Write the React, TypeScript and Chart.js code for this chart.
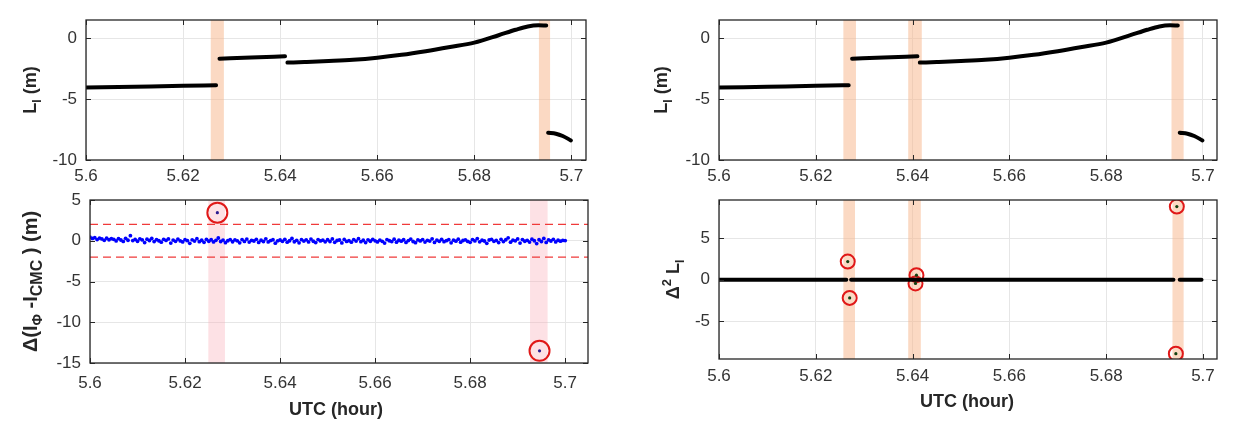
import React, { useEffect, useRef } from "react";
import { Chart, registerables } from "chart.js";

Chart.register(...registerables);

// ---------------- DATA ----------------
const X_TICKS = [5.6, 5.62, 5.64, 5.66, 5.68, 5.7];
const LI_Y_TICKS = [-10, -5, 0];
const DIFF_Y_TICKS = [-15, -10, -5, 0, 5];
const D2_Y_TICKS = [-5, 0, 5];

// L_I (m), four arcs separated by cycle slips
const LI_SEG1_X = [5.6, 5.61, 5.62, 5.6268];
const LI_SEG1_Y = [-4.05, -3.98, -3.91, -3.86];
const LI_SEG2_X = [5.6275, 5.634, 5.641];
const LI_SEG2_Y = [-1.68, -1.58, -1.48];
const LI_SEG3_X = [5.6415, 5.645, 5.65, 5.655, 5.66, 5.665, 5.67, 5.675, 5.68, 5.685, 5.6885, 5.691, 5.6932, 5.6948];
const LI_SEG3_Y = [-2.0, -1.95, -1.87, -1.77, -1.6, -1.36, -1.06, -0.72, -0.36, 0.25, 0.7, 0.97, 1.06, 1.05];
const LI_SEG4_X = [5.6952, 5.6968, 5.6982, 5.6999];
const LI_SEG4_Y = [-7.76, -7.84, -8.03, -8.39];

// Δ(I_Φ - I_CMC) (m): epochs start at DIFF_T0, sampled every DIFF_DT hour
const DIFF_T0 = 5.6;
const DIFF_DT = 0.0005;
const DIFF_VALUES = [
  0.45, 0.28, 0.38, 0.15, 0.33, 0.22, 0.05, 0.31, 0.12, 0.26,
  0.18, -0.02, 0.27, 0.09, -0.08, 0.30, 0.06, 0.62, 0.02, 0.16,
  -0.06, 0.24, 0.10, -0.22, 0.19, 0.03, 0.29, -0.10, 0.14, 0.00,
  -0.18, 0.17, 0.04, 0.23, -0.28, 0.08, -0.07, 0.21, -0.02, -0.14,
  0.13, 0.01, -0.31, 0.11, -0.04, 0.26, -0.11, 0.06, -0.19, 0.18,
  -0.06, 0.12, -0.15, 0.05, 0.34, -0.09, 0.08, -0.24, 0.00, 0.15,
  -0.12, 0.10, -0.01, -0.26, 0.14, -0.08, 0.20, -0.16, 0.04, -0.03,
  0.17, -0.21, 0.06, -0.09, 0.24, -0.14, 0.02, 0.12, -0.30, -0.01,
  0.09, -0.07, 0.18, -0.18, 0.00, 0.29, -0.12, 0.05, -0.25, 0.13,
  -0.04, 0.11, -0.15, 0.21, -0.06, -0.22, 0.15, -0.02, 0.07, -0.13,
  0.12, -0.09, 0.23, -0.19, 0.03, 0.09, -0.27, 0.16, -0.08, 0.01,
  -0.17, 0.14, -0.04, 0.25, -0.11, 0.06, -0.23, 0.11, -0.06, 0.18,
  -0.01, -0.14, 0.08, -0.07, -0.29, 0.15, 0.00, -0.10, 0.19, -0.18,
  0.06, -0.05, 0.12, -0.20, 0.02, 0.21, -0.09, -0.24, 0.10, -0.02,
  0.15, -0.16, 0.05, -0.04, 0.24, -0.21, 0.08, -0.07, 0.17, -0.11,
  0.01, 0.13, -0.26, 0.07, -0.05, 0.19, -0.17, 0.03, 0.11, -0.08,
  -0.19, 0.14, -0.02, 0.27, -0.13, 0.06, -0.03, -0.32, 0.09, 0.18,
  -0.07, 0.04, -0.23, 0.17, -0.10, 0.12, 0.36, -0.18, 0.07, -0.01,
  0.22, -0.28, 0.14, -0.06, 0.05, -0.16, 0.19, 0.00, -0.35, 0.12,
  -0.09, 0.28, -0.20, 0.10, -0.03, 0.17, -0.14, 0.06, -0.05, 0.04,
  0.02,
];
const DIFF_OUTLIER_X = [5.6268, 5.6946];
const DIFF_OUTLIER_Y = [3.45, -13.5];
const DIFF_THRESHOLD = 2;

// Δ² L_I
const D2_SEG1_X = [5.6, 5.6263];
const D2_SEG1_Y = [0, 0];
const D2_SEG2_X = [5.6273, 5.6939];
const D2_SEG2_Y = [0, 0];
const D2_SEG3_X = [5.6952, 5.6997];
const D2_SEG3_Y = [0, 0];
const D2_OUTLIER_X = [5.6266, 5.627, 5.6408, 5.6406, 5.6946, 5.6944];
const D2_OUTLIER_Y = [2.2, -2.2, 0.55, -0.45, 8.85, -8.95];

// flagged intervals
const LI_BANDS_LEFT = [[5.6257, 5.6284], [5.6933, 5.6956]];
const DIFF_BANDS = [[5.6249, 5.6284], [5.6926, 5.6963]];
const LI_BANDS_RIGHT = [[5.6257, 5.6283], [5.6391, 5.6419], [5.6935, 5.696]];
const D2_BANDS = [[5.6257, 5.6281], [5.6391, 5.6417], [5.6937, 5.696]];

// ---------------- STYLE / LAYOUT ----------------
const PAGE_W = 1243;
const PAGE_H = 422;
const FONT = '"Liberation Sans", Arial, Helvetica, sans-serif';
const AXIS_COLOR = "#262626";
const TICK_COLOR = "#333333";
const GRID_COLOR = "#e6e6e6";
const ORANGE_BAND = "rgba(248, 180, 135, 0.5)";
const PINK_BAND = "rgba(250, 170, 180, 0.35)";
const YW = 50;
const XH = 30;

type Run = { t: string; size: number; shift?: number };

const pts = (xs: number[], ys: number[]) => xs.map((x, i) => ({ x, y: ys[i] }));

function lineDs(xs: number[], ys: number[]) {
  return {
    data: pts(xs, ys),
    showLine: true,
    borderColor: "#000",
    borderWidth: 4,
    pointRadius: 0,
    cubicInterpolationMode: "monotone",
    borderCapStyle: "round",
  };
}

function drawRuns(ctx: CanvasRenderingContext2D, runs: Run[], cx: number, cy: number, rotate: boolean, mainSize: number) {
  ctx.save();
  ctx.translate(cx, cy);
  if (rotate) ctx.rotate(-Math.PI / 2);
  ctx.fillStyle = AXIS_COLOR;
  ctx.textAlign = "left";
  ctx.textBaseline = "alphabetic";
  const widths = runs.map((r) => {
    ctx.font = `bold ${r.size}px ${FONT}`;
    return ctx.measureText(r.t).width;
  });
  const total = widths.reduce((a, b) => a + b, 0);
  let x = -total / 2;
  const base = mainSize * 0.36;
  runs.forEach((r, i) => {
    ctx.font = `bold ${r.size}px ${FONT}`;
    ctx.fillText(r.t, x, base + (r.shift || 0));
    x += widths[i];
  });
  ctx.restore();
}

function makePanelPlugin(spec: any) {
  return {
    id: "panel_" + spec.key,
    beforeDatasetsDraw(chart: any) {
      const { ctx, chartArea, scales } = chart;
      const x = scales.x;
      ctx.save();
      ctx.beginPath();
      ctx.rect(chartArea.left, chartArea.top, chartArea.right - chartArea.left, chartArea.bottom - chartArea.top);
      ctx.clip();
      ctx.fillStyle = spec.bandColor;
      spec.bands.forEach(([a, b]: number[]) => {
        const xa = x.getPixelForValue(a);
        const xb = x.getPixelForValue(b);
        ctx.fillRect(xa, chartArea.top, xb - xa, chartArea.bottom - chartArea.top);
      });
      ctx.restore();
    },
    afterDraw(chart: any) {
      const { ctx, chartArea, scales } = chart;
      const { left, top, right, bottom } = chartArea;
      const x = scales.x;
      const y = scales.y;
      ctx.save();
      ctx.strokeStyle = AXIS_COLOR;
      ctx.lineWidth = 1.3;
      ctx.strokeRect(left, top, right - left, bottom - top);
      ctx.lineWidth = 1;
      ctx.beginPath();
      X_TICKS.forEach((v) => {
        const px = Math.round(x.getPixelForValue(v)) + 0.5;
        ctx.moveTo(px, bottom);
        ctx.lineTo(px, bottom - 5);
        ctx.moveTo(px, top);
        ctx.lineTo(px, top + 5);
      });
      spec.yTicks.forEach((v: number) => {
        const py = Math.round(y.getPixelForValue(v)) + 0.5;
        ctx.moveTo(left, py);
        ctx.lineTo(left + 5, py);
        ctx.moveTo(right, py);
        ctx.lineTo(right - 5, py);
      });
      ctx.stroke();
      ctx.restore();

      drawRuns(ctx, spec.yTitle, spec.yTitleX, (top + bottom) / 2, true, spec.yTitleSize);
      if (spec.xTitle) {
        drawRuns(ctx, [{ t: "UTC (hour)", size: 18 }], spec.xTitleX, spec.xTitleY - 18 * 0.36, false, 18);
      }
    },
  };
}

function makeConfig(spec: any) {
  const a = spec.area;
  const tickFont = { family: FONT, size: 17 };
  return {
    type: "scatter",
    data: { datasets: spec.datasets },
    options: {
      responsive: false,
      animation: false,
      events: [],
      devicePixelRatio: 1,
      layout: {
        padding: { left: a.l - YW, top: a.t, right: PAGE_W - a.r, bottom: PAGE_H - a.b - XH },
      },
      plugins: { legend: { display: false }, tooltip: { enabled: false } },
      scales: {
        x: {
          type: "linear",
          min: 5.6,
          max: spec.xMax,
          afterFit: (s: any) => { s.height = XH; },
          afterBuildTicks: (s: any) => { s.ticks = X_TICKS.map((v) => ({ value: v })); },
          ticks: { padding: spec.xPad, font: tickFont, color: TICK_COLOR, maxRotation: 0, callback: (v: any) => String(v) },
          grid: { color: GRID_COLOR, drawTicks: false, lineWidth: 1 },
          border: { display: false },
        },
        y: {
          type: "linear",
          min: spec.yMin,
          max: spec.yMax,
          afterFit: (s: any) => { s.width = YW; },
          afterBuildTicks: (s: any) => { s.ticks = spec.yTicks.map((v: number) => ({ value: v })); },
          ticks: { padding: 9, font: tickFont, color: TICK_COLOR, callback: (v: any) => String(v) },
          grid: { color: GRID_COLOR, drawTicks: false, lineWidth: 1 },
          border: { display: false },
        },
      },
    },
    plugins: [makePanelPlugin(spec)],
  };
}

const LI_TITLE: Run[] = [
  { t: "L", size: 18 },
  { t: "I", size: 12, shift: 5 },
  { t: " (m)", size: 18 },
];
const DIFF_TITLE: Run[] = [
  { t: "Δ(", size: 20 },
  { t: "I", size: 20 },
  { t: "Φ", size: 14, shift: 5 },
  { t: " -", size: 20 },
  { t: "I", size: 20 },
  { t: "CMC", size: 16, shift: 5 },
  { t: " )", size: 20 },
  { t: " (m)", size: 20 },
];
const D2_TITLE: Run[] = [
  { t: "Δ", size: 18 },
  { t: "2", size: 13, shift: -8 },
  { t: " L", size: 18 },
  { t: "I", size: 12, shift: 5 },
];

function buildPanels() {
  const liSets = () => [
    lineDs(LI_SEG1_X, LI_SEG1_Y),
    lineDs(LI_SEG2_X, LI_SEG2_Y),
    lineDs(LI_SEG3_X, LI_SEG3_Y),
    lineDs(LI_SEG4_X, LI_SEG4_Y),
  ];
  const diffX = DIFF_VALUES.map((_, i) => DIFF_T0 + i * DIFF_DT);
  const blXMax = 5.7048;
  const brXMax = 5.7029;
  return [
    {
      key: "tl",
      area: { l: 86, t: 20, r: 586, b: 160 },
      xMax: 5.703, yMin: -10, yMax: 1.5, yTicks: LI_Y_TICKS, xPad: 6,
      bands: LI_BANDS_LEFT, bandColor: ORANGE_BAND,
      yTitle: LI_TITLE, yTitleX: 29.5, yTitleSize: 18,
      datasets: liSets(),
    },
    {
      key: "bl",
      area: { l: 90, t: 200, r: 588, b: 363 },
      xMax: blXMax, yMin: -15, yMax: 5, yTicks: DIFF_Y_TICKS, xPad: 10,
      bands: DIFF_BANDS, bandColor: PINK_BAND,
      yTitle: DIFF_TITLE, yTitleX: 29.5, yTitleSize: 20,
      xTitle: true, xTitleX: 336, xTitleY: 415,
      datasets: [
        {
          data: [{ x: 5.6, y: DIFF_THRESHOLD }, { x: blXMax, y: DIFF_THRESHOLD }],
          showLine: true, borderColor: "#f03a3a", borderWidth: 1.2, borderDash: [8, 5], pointRadius: 0,
        },
        {
          data: [{ x: 5.6, y: -DIFF_THRESHOLD }, { x: blXMax, y: -DIFF_THRESHOLD }],
          showLine: true, borderColor: "#f03a3a", borderWidth: 1.2, borderDash: [8, 5], pointRadius: 0,
        },
        {
          data: pts(diffX, DIFF_VALUES),
          pointRadius: 1.9, pointBackgroundColor: "#0000ff", pointBorderWidth: 0,
        },
        {
          data: pts(DIFF_OUTLIER_X, DIFF_OUTLIER_Y),
          pointRadius: 1.6, pointBackgroundColor: "#2a1a90", pointBorderWidth: 0,
        },
        {
          data: pts(DIFF_OUTLIER_X, DIFF_OUTLIER_Y),
          pointRadius: 10, pointBackgroundColor: "rgba(0,0,0,0)", pointBorderColor: "#e01818", pointBorderWidth: 2,
        },
      ],
    },
    {
      key: "tr",
      area: { l: 719, t: 20, r: 1217, b: 160 },
      xMax: brXMax, yMin: -10, yMax: 1.5, yTicks: LI_Y_TICKS, xPad: 6,
      bands: LI_BANDS_RIGHT, bandColor: ORANGE_BAND,
      yTitle: LI_TITLE, yTitleX: 661, yTitleSize: 18,
      datasets: liSets(),
    },
    {
      key: "br",
      area: { l: 719, t: 200, r: 1217, b: 359 },
      xMax: brXMax, yMin: -9.6, yMax: 9.65, yTicks: D2_Y_TICKS, xPad: 7,
      bands: D2_BANDS, bandColor: ORANGE_BAND,
      yTitle: D2_TITLE, yTitleX: 672.5, yTitleSize: 18,
      xTitle: true, xTitleX: 967, xTitleY: 407,
      datasets: [
        lineDs(D2_SEG1_X, D2_SEG1_Y),
        lineDs(D2_SEG2_X, D2_SEG2_Y),
        lineDs(D2_SEG3_X, D2_SEG3_Y),
        {
          data: pts(D2_OUTLIER_X, D2_OUTLIER_Y),
          pointRadius: 1.6, pointBackgroundColor: "#124012", pointBorderWidth: 0,
        },
        {
          data: pts(D2_OUTLIER_X, D2_OUTLIER_Y),
          pointRadius: 7, pointBackgroundColor: "rgba(0,0,0,0)", pointBorderColor: "#e01818", pointBorderWidth: 2,
        },
      ],
    },
  ];
}

export default function App() {
  const refs = [useRef<HTMLCanvasElement>(null), useRef<HTMLCanvasElement>(null), useRef<HTMLCanvasElement>(null), useRef<HTMLCanvasElement>(null)];
  useEffect(() => {
    const panels = buildPanels();
    const charts = panels.map((p, i) => new Chart(refs[i].current as HTMLCanvasElement, makeConfig(p) as any));
    return () => charts.forEach((c) => c.destroy());
  }, []);
  return (
    <div style={{ position: "absolute", left: 0, top: 0, width: PAGE_W, height: PAGE_H, background: "#fff" }}>
      {refs.map((r, i) => (
        <canvas
          key={i}
          ref={r}
          width={PAGE_W}
          height={PAGE_H}
          style={{ position: "absolute", left: 0, top: 0, width: PAGE_W, height: PAGE_H }}
        />
      ))}
    </div>
  );
}
